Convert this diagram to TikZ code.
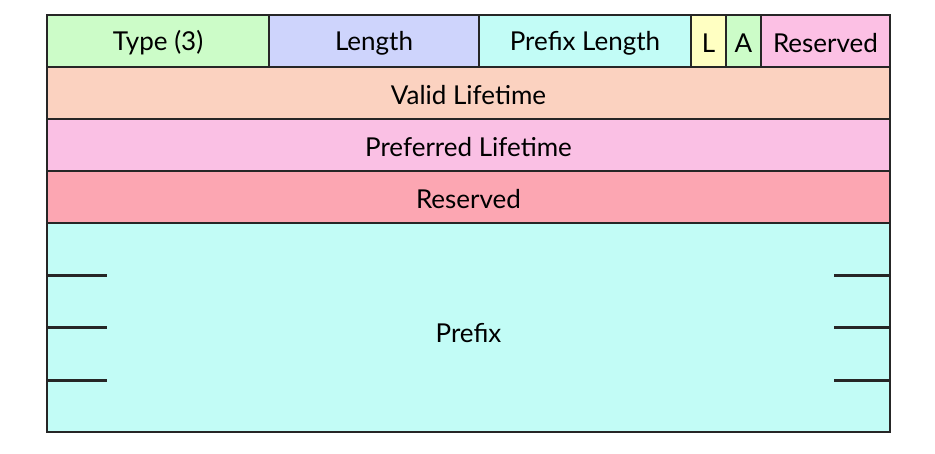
\documentclass[tikz,border=0pt]{standalone}
\usepackage{fontspec}
\setmainfont{Lato}
\begin{document}
\begin{tikzpicture}[x=1pt,y=-1pt,
  field/.style={draw=black!85,line width=1.6pt,inner sep=0pt,font=\fontsize{26}{30}\selectfont,text=black},
  lbl/.style={yshift=-2pt},
  tick/.style={draw=black!85,line width=3pt}]
\useasboundingbox (0,0) rectangle (935,453);
% colours of the fields
\definecolor{cType}{RGB}{204,252,200}
\definecolor{cLen}{RGB}{206,212,252}
\definecolor{cPLen}{RGB}{194,252,246}
\definecolor{cL}{RGB}{255,255,194}
\definecolor{cA}{RGB}{204,252,200}
\definecolor{cRes}{RGB}{252,192,228}
\definecolor{cValid}{RGB}{251,210,192}
\definecolor{cPref}{RGB}{250,192,228}
\definecolor{cRes2}{RGB}{252,166,178}
\definecolor{cPrefix}{RGB}{194,252,246}
% first row
\path[field,fill=cType] (47,15) rectangle node[lbl] (type) {Type (3)} (269,67);
\path[field,fill=cLen] (269,15) rectangle node[lbl] (len) {Length} (479,67);
\path[field,fill=cPLen] (479,15) rectangle node[lbl] (plen) {Prefix Length} (691,67);
\path[field,fill=cL] (691,15) rectangle node[lbl] (lbit) {L} (726,67);
\path[field,fill=cA] (726,15) rectangle node[lbl] (abit) {A} (761,67);
\path[field,fill=cRes] (761,15) rectangle node[lbl] (res1) {Reserved} (890,67);
% full-width rows
\path[field,fill=cValid] (47,67) rectangle node[lbl] (valid) {Valid Lifetime} (890,119);
\path[field,fill=cPref] (47,119) rectangle node[lbl] (pref) {Preferred Lifetime} (890,171);
\path[field,fill=cRes2] (47,171) rectangle node[lbl] (res2) {Reserved} (890,223);
\path[field,fill=cPrefix] (47,223) rectangle node[lbl,yshift=-4pt] (prefix) {Prefix} (890,432);
% row marks inside the prefix field
\foreach \y in {275,327,380}{
  \draw[tick] (47,\y) -- (107,\y);
  \draw[tick] (834,\y) -- (890,\y);
}
\end{tikzpicture}
\end{document}
